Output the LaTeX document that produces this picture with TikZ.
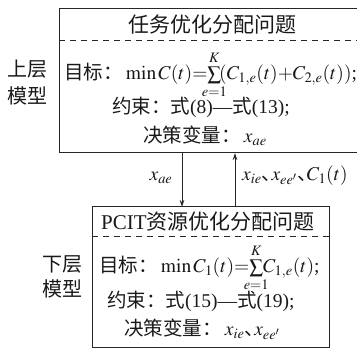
\documentclass[tikz,border=0pt]{standalone}
\usepackage{mathptmx}
\usepackage{mathtools}
\usepackage{fontspec}
\setmainfont{Liberation Serif}
\newfontfamily\cjk{Noto Sans CJK SC}
\newcommand{\dunhao}{\makebox[0.5em][l]{\cjk 、}}
\usetikzlibrary{arrows.meta}
\begin{document}
\begin{tikzpicture}[x=1pt,y=-1pt,
  box/.style={draw=black!85,line width=1pt,inner sep=0pt,outer sep=0pt,anchor=north west},
  sepline/.style={draw=black!85,line width=0.8pt,dash pattern=on 6pt off 5pt},
  arr/.style={draw=black!85,line width=0.9pt,-{Stealth[length=7pt,width=4.5pt]}},
  txt/.style={inner sep=0pt,anchor=base west,font=\fontsize{19.5}{22}\selectfont,text=black!90},
  ttl/.style={txt,font=\fontsize{21}{24}\selectfont},
  side/.style={txt,anchor=base,font=\fontsize{20}{22}\selectfont}]
\useasboundingbox (0,0) rectangle (357,350);
\clip (0,0) rectangle (357,350);
% boxes
\node[box,minimum width=303pt,minimum height=144pt] (up) at (59,9) {};
\node[box,minimum width=237pt,minimum height=141pt] (low) at (92,207) {};
\draw[sepline] ([yshift=-31pt]up.north west) -- ([yshift=-31pt]up.north east);
\draw[sepline] ([yshift=-29pt]low.north west) -- ([yshift=-29pt]low.north east);
% arrows
\coordinate (dx) at (182,0);
\coordinate (ux) at (235,0);
\draw[arr] (up.south -| dx) -- (low.north -| dx);
\draw[arr] (low.north -| ux) -- (up.south -| ux);
% side labels
\node[side] (ul1) at (28,77) {\cjk 上层};
\node[side] (ul2) at (28,104) {\cjk 模型};
\node[side] (ll1) at (62,272) {\cjk 下层};
\node[side] (ll2) at (62,297) {\cjk 模型};
% upper box text
\node[ttl] (ut) at (128,33) {\cjk 任务优化分配问题};
\node[txt] (uo) at (64,80) {{\cjk 目标：}\,$\min C(t){=}\!\sum\limits_{\mathclap{e=1}}^{K}\!(C_{1,e}(t){+}C_{2,e}(t))$;};
\node[txt] (uc) at (112,114) {{\cjk 约束：式}(8)—{\cjk 式}(13);};
\node[txt] (uv) at (143,143) {{\cjk 决策变量：}\,$x_{ae}$};
% middle labels
\node[txt,anchor=base] (ml) at (161,181) {$x_{ae}$};
\node[txt] (mr) at (242,181) {$x_{ie}$\dunhao$x_{ee'}$\dunhao$C_1(t)$};
% lower box text
\node[ttl] (lt) at (101,230) {PCIT{\cjk 资源优化分配问题}};
\node[txt] (lo) at (99,273) {{\cjk 目标：}\,$\min C_1(t){=}\!\sum\limits_{\mathclap{e=1}}^{K}\!C_{1,e}(t)$;};
\node[txt] (lc) at (107,308) {{\cjk 约束：式}(15)—{\cjk 式}(19);};
\node[txt] (lv) at (124,336) {{\cjk 决策变量：}\,$x_{ie}$\dunhao$x_{ee'}$};
\end{tikzpicture}
\end{document}
